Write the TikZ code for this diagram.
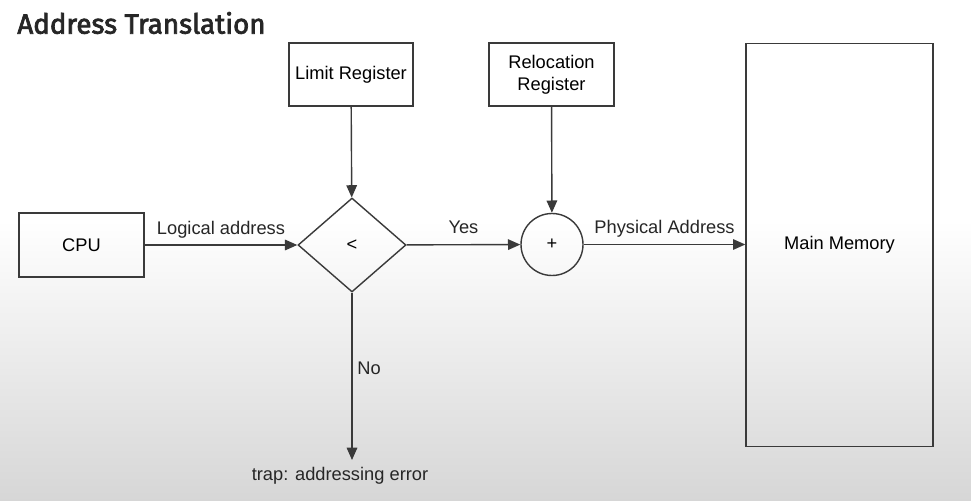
\documentclass[tikz,border=0pt]{standalone}
\usepackage{fontspec}
\setmainfont{Liberation Sans}
\newfontfamily\titlefont[FakeBold=2.6]{Fira Sans}
\usetikzlibrary{shapes.geometric,arrows.meta,positioning}

\definecolor{linegray}{HTML}{3A3A3A}
\tikzset{
  blk/.style={draw=linegray,line width=0.8pt,align=center,inner sep=0pt},
  flow/.style={draw=linegray,line width=0.8pt,-{Triangle[length=7pt,width=6pt]}},
  lbl/.style={inner sep=0pt,text=black!85},
  edgelbl/.style={lbl,anchor=base,yshift=0.22cm}
}

\begin{document}
\begin{tikzpicture}[font=\fontsize{10.4}{12.5}\selectfont]
  % background
  \useasboundingbox (0,0) rectangle (19.42,-10.02);
  \fill[white] (0,0) rectangle (19.42,-4.4);
  \shade[top color=white,bottom color=gray!32] (0,-4.4) rectangle (19.42,-10.02);

  \node[lbl,anchor=west,font=\titlefont\fontsize{15.8}{19}\selectfont] (title) at (0.34,-0.46) {Address Translation};

  % blocks
  \node[blk,minimum width=2.5cm,minimum height=1.28cm] (cpu) at (1.63,-4.9) {CPU};
  \node[blk,diamond,aspect=1.15,minimum width=2.16cm,minimum height=1.88cm] (cmp) at (7.04,-4.9) {<};
  \node[blk,minimum width=2.48cm,minimum height=1.26cm] (limit) at (7.02,-1.49) {Limit Register};
  \node[blk,minimum width=2.5cm,minimum height=1.26cm] (reloc) at (11.03,-1.49) {Relocation\\Register};
  \node[blk,circle,minimum size=1.24cm] (add) at (11.04,-4.89) {+};
  \node[blk,minimum width=3.74cm,minimum height=8.06cm] (mem) at (16.79,-4.9) {Main Memory};
  \coordinate (trapend) at (7.04,-9.2);
  \node[lbl] (trap) at (6.8,-9.52) {trap: addressing error};

  % connectors
  \draw[flow] (cpu) -- node[edgelbl] {Logical address} (cmp);
  \draw[flow] (limit) -- (cmp);
  \draw[flow] (cmp) -- node[edgelbl] {Yes} (add);
  \draw[flow] (reloc) -- (add);
  \draw[flow] (add) -- node[edgelbl] {Physical Address} (mem.west |- add);
  \draw[flow] (cmp) -- (trapend);
  \node[lbl,anchor=west] (no) at (7.14,-7.36) {No};
\end{tikzpicture}
\end{document}
